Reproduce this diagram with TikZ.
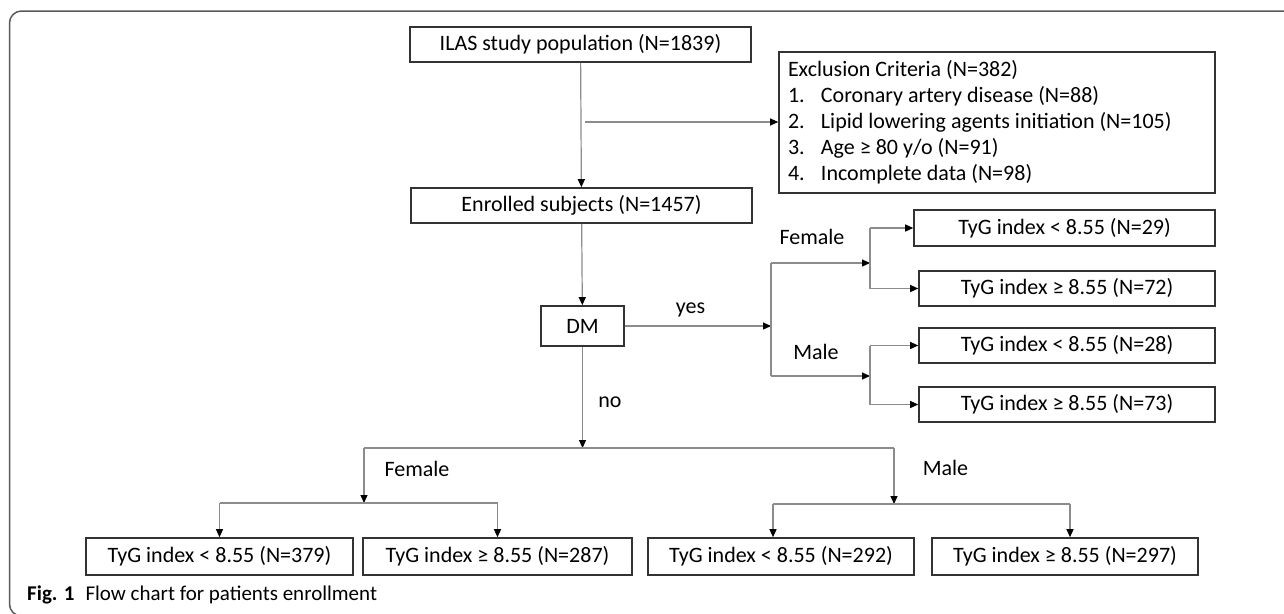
\documentclass[tikz,border=0pt]{standalone}
\usepackage{fontspec}
\setmainfont{Carlito}
\usetikzlibrary{arrows.meta}

\newcommand{\exline}[2]{\makebox[418pt][l]{\makebox[33pt][l]{#1}#2}}

\tikzset{
  box/.style={draw=black!80, line width=1.6pt, inner sep=0pt, minimum height=35pt,
    font=\fontsize{22}{26}\selectfont},
  link/.style={draw=black!45, line width=1.2pt},
  arr/.style={link, -{Triangle[length=8pt, width=7pt, color=black]}},
  lbl/.style={inner sep=0pt, font=\fontsize{22}{26}\selectfont},
}

\begin{document}
\begin{tikzpicture}[x=1pt, y=-1pt]

     \useasboundingbox (0, 0) rectangle (1284, 613);
     \draw [draw=black!65, line width=1.5pt, rounded corners=12pt]
       (1300, 11) -- (9.5, 11) -- (9.5, 616) -- (1300, 616);

     % main column
     \node (ilas) at (580.5, 44.5) [box, minimum width=341pt] {ILAS study population (N=1839)};
     \node (excl) at (997, 122.5) [box, minimum height=141pt, inner xsep=9pt, align=left]
       {\makebox[418pt][l]{Exclusion Criteria (N=382)}\\
        \exline{1.}{Coronary artery disease (N=88)}\\
        \exline{2.}{Lipid lowering agents initiation (N=105)}\\
        \exline{3.}{Age ≥ 80 y/o (N=91)}\\
        \exline{4.}{Incomplete data (N=98)}};
     \node (enrol) at (581.5, 205.5) [box, minimum width=341pt] {Enrolled subjects (N=1457)};
     \node (dm) at (582.5, 326) [box, minimum width=83pt, minimum height=40pt] {DM};

     % DM yes
     \node (fl) at (1064.5, 228) [box, minimum width=301pt, minimum height=36pt] {TyG index < 8.55 (N=29)};
     \node (fh) at (1067, 288.5) [box, minimum width=296pt] {TyG index ≥ 8.55 (N=72)};
     \node (ml) at (1067, 345.5) [box, minimum width=296pt] {TyG index < 8.55 (N=28)};
     \node (mh) at (1067, 404.5) [box, minimum width=296pt] {TyG index ≥ 8.55 (N=73)};

     % DM no
     \node (nfl) at (219.5, 556.5) [box, minimum width=267pt, minimum height=37pt] {TyG index < 8.55 (N=379)};
     \node (nfh) at (497.5, 556.5) [box, minimum width=269pt, minimum height=37pt] {TyG index ≥ 8.55 (N=287)};
     \node (nml) at (781, 556.5) [box, minimum width=266pt, minimum height=37pt] {TyG index < 8.55 (N=292)};
     \node (nmh) at (1065, 556.5) [box, minimum width=266pt, minimum height=37pt] {TyG index ≥ 8.55 (N=297)};

     \node (yeslbl) at (690.5, 310) [lbl] {yes};
     \node (nolbl) at (610, 402) [lbl] {no};
     \node (femA) at (812, 237) [lbl] {Female};
     \node (maleA) at (816, 352) [lbl] {Male};
     \node (femB) at (417, 469) [lbl] {Female};
     \node (maleB) at (945.5, 468) [lbl] {Male};

     \node (cap) at (27, 595) [anchor=west, inner sep=0pt, font=\fontsize{21}{25}\selectfont]
       {\textbf{Fig. 1}\hspace{11pt}Flow chart for patients enrollment};

     \coordinate (split) at (585, 122);
     \coordinate (dmF) at (771, 263);
     \coordinate (dmM) at (771, 376);
     \coordinate (brF) at (870, 263);
     \coordinate (brM) at (870, 376);
     \coordinate (noF) at (364, 448);
     \coordinate (noM) at (894, 448);
     \coordinate (noFb) at (364, 503);
     \coordinate (noMb) at (894, 504);
     \coordinate (nmlT) at (773, 504);
     \coordinate (nmhT) at (1070, 504);

     \draw [arr] (ilas) -- (enrol);
     \draw [arr] (split) -- (excl.west |- split);
     \draw [arr] (enrol) -- (dm);

     \draw [arr] (dm.east) -- (dm.east -| dmF);
     \draw [link] (dmF) -- (dmM);
     \draw [arr] (dmF) -- (brF);
     \draw [arr] (dmM) -- (brM);
     \draw [link] (fl.west -| brF) -- (fh.west -| brF);
     \draw [arr] (fl.west -| brF) -- (fl.west);
     \draw [arr] (fh.west -| brF) -- (fh.west);
     \draw [link] (ml.west -| brM) -- (mh.west -| brM);
     \draw [arr] (ml.west -| brM) -- (ml.west);
     \draw [arr] (mh.west -| brM) -- (mh.west);

     \draw [arr] (dm.south) -- (dm.south |- noF);
     \draw [link] (noF) -- (noM);
     \draw [arr] (noF) -- (noFb);
     \draw [arr] (noM) -- (noMb);
     \draw [link] (nfl.north |- noFb) -- (nfh.north |- noFb);
     \draw [arr] (nfl.north |- noFb) -- (nfl.north);
     \draw [arr] (nfh.north |- noFb) -- (nfh.north);
     \draw [link] (nmlT) -- (nmhT);
     \draw [arr] (nmlT) -- (nmlT |- nml.north);
     \draw [arr] (nmhT) -- (nmhT |- nmh.north);

\end{tikzpicture}
\end{document}
